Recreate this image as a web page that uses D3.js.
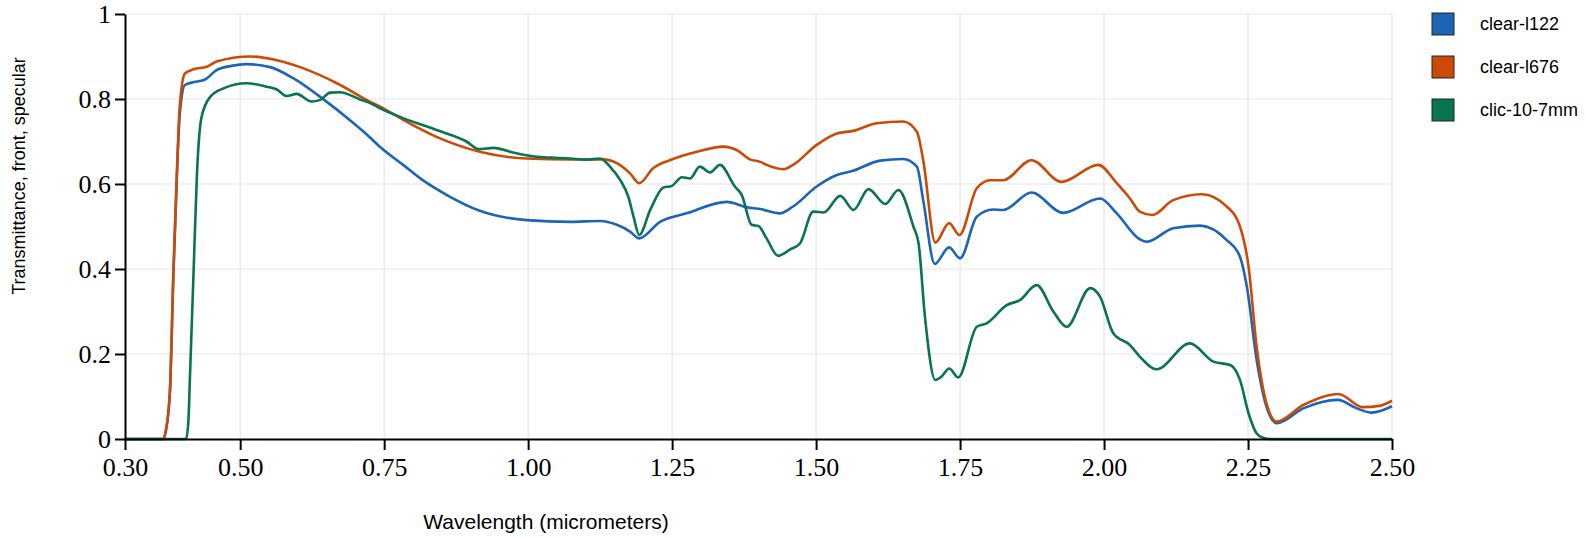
<!DOCTYPE html>
<html lang="en">
<head>
    <meta charset="UTF-8">
    <title>Transmittance</title>
    <script src="https://d3js.org/d3.v7.min.js"></script>
    <style>
        body { margin: 0; background: #fff; }
        .grid line { stroke: #e6e6e6; stroke-width: 1.2px; }
        .axis path, .axis line { stroke: #000; stroke-width: 2px; }
        .axis text { font-family: "Liberation Serif", "Times New Roman", serif; font-size: 26px; fill: #000; }
        .title { font-family: "Liberation Sans", Arial, sans-serif; font-size: 18px; fill: #000; }
        .legend text { font-family: "Liberation Sans", Arial, sans-serif; font-size: 18px; fill: #000; }
        .series { fill: none; stroke-width: 2.6px; stroke-linejoin: round; }
    </style>
</head>
<body>
    <div id="chart"></div>
    <script>
        // values: [wavelength um, transmittance]
        const seriesNames = ["clear-l122", "clear-l676", "clic-10-7mm"];
        const seriesColors = ["#1c64b5", "#cc4a08", "#0a7350"];
        const xTicks = [0.30, 0.50, 0.75, 1.00, 1.25, 1.50, 1.75, 2.00, 2.25, 2.50];
        const yTicks = [0, 0.2, 0.4, 0.6, 0.8, 1];

        const clearL122 = [
            [0.30, 0], [0.366, 0], [0.371, 0.02], [0.378, 0.11], [0.384, 0.386], [0.390, 0.614],
            [0.395, 0.762], [0.404, 0.833], [0.420, 0.840], [0.439, 0.846], [0.459, 0.868],
            [0.485, 0.878], [0.511, 0.882], [0.552, 0.875], [0.592, 0.849], [0.639, 0.805],
            [0.696, 0.744], [0.725, 0.710], [0.743, 0.687], [0.783, 0.645], [0.817, 0.609],
            [0.859, 0.574], [0.916, 0.537], [0.998, 0.515], [1.073, 0.511], [1.125, 0.513],
            [1.154, 0.504], [1.177, 0.488], [1.193, 0.472], [1.229, 0.511], [1.275, 0.531],
            [1.345, 0.558], [1.380, 0.545], [1.403, 0.541], [1.437, 0.531], [1.460, 0.547],
            [1.501, 0.594], [1.536, 0.621], [1.564, 0.631], [1.611, 0.655], [1.651, 0.659],
            [1.675, 0.641], [1.686, 0.562], [1.706, 0.412], [1.731, 0.451], [1.750, 0.425],
            [1.779, 0.523], [1.807, 0.540], [1.825, 0.539], [1.874, 0.580], [1.929, 0.532],
            [1.993, 0.566], [2.022, 0.531], [2.062, 0.470], [2.074, 0.464], [2.120, 0.496],
            [2.167, 0.502], [2.213, 0.468], [2.236, 0.429], [2.248, 0.358], [2.265, 0.186],
            [2.282, 0.076], [2.300, 0.037], [2.346, 0.072], [2.406, 0.092], [2.439, 0.072],
            [2.465, 0.062], [2.500, 0.077]
        ];

        const clearL676 = [
            [0.30, 0], [0.366, 0], [0.371, 0.02], [0.378, 0.115], [0.384, 0.39], [0.390, 0.625],
            [0.395, 0.782], [0.404, 0.860], [0.419, 0.870], [0.442, 0.876], [0.459, 0.888],
            [0.517, 0.900], [0.558, 0.893], [0.610, 0.872], [0.668, 0.837], [0.725, 0.794],
            [0.743, 0.782], [0.783, 0.751], [0.841, 0.711], [0.916, 0.676], [0.998, 0.660],
            [1.073, 0.658], [1.131, 0.658], [1.154, 0.649], [1.177, 0.625], [1.193, 0.602],
            [1.217, 0.637], [1.246, 0.656], [1.293, 0.676], [1.339, 0.688], [1.362, 0.680],
            [1.385, 0.658], [1.403, 0.652], [1.414, 0.645], [1.443, 0.635], [1.460, 0.645],
            [1.501, 0.692], [1.536, 0.719], [1.565, 0.725], [1.605, 0.743], [1.651, 0.747],
            [1.675, 0.723], [1.686, 0.656], [1.707, 0.462], [1.731, 0.508], [1.749, 0.480],
            [1.779, 0.590], [1.802, 0.609], [1.825, 0.609], [1.874, 0.656], [1.926, 0.605],
            [1.990, 0.645], [2.022, 0.602], [2.045, 0.566], [2.062, 0.535], [2.084, 0.527],
            [2.120, 0.562], [2.170, 0.576], [2.213, 0.547], [2.236, 0.500], [2.251, 0.405],
            [2.265, 0.217], [2.282, 0.084], [2.300, 0.041], [2.346, 0.080], [2.407, 0.106],
            [2.449, 0.075], [2.478, 0.078], [2.500, 0.090]
        ];

        const clic107 = [
            [0.30, 0], [0.406, 0], [0.410, 0.04], [0.413, 0.155], [0.419, 0.390], [0.425, 0.625],
            [0.433, 0.758], [0.448, 0.805], [0.471, 0.825], [0.511, 0.837], [0.546, 0.829],
            [0.563, 0.823], [0.581, 0.807], [0.598, 0.812], [0.624, 0.794], [0.639, 0.798],
            [0.656, 0.815], [0.673, 0.816], [0.708, 0.799], [0.725, 0.791], [0.743, 0.778],
            [0.783, 0.755], [0.841, 0.727], [0.893, 0.700], [0.914, 0.682], [0.940, 0.685],
            [0.974, 0.674], [1.015, 0.664], [1.040, 0.662], [1.073, 0.660], [1.100, 0.657],
            [1.125, 0.660], [1.142, 0.641], [1.160, 0.609], [1.174, 0.570], [1.183, 0.523],
            [1.193, 0.480], [1.212, 0.539], [1.235, 0.592], [1.249, 0.595], [1.267, 0.616],
            [1.281, 0.613], [1.298, 0.641], [1.316, 0.627], [1.333, 0.645], [1.359, 0.594],
            [1.371, 0.574], [1.388, 0.504], [1.400, 0.501], [1.414, 0.472], [1.434, 0.431],
            [1.455, 0.446], [1.472, 0.460], [1.495, 0.535], [1.513, 0.533], [1.542, 0.572],
            [1.565, 0.539], [1.591, 0.588], [1.620, 0.553], [1.643, 0.586], [1.669, 0.500],
            [1.678, 0.460], [1.689, 0.288], [1.707, 0.139], [1.718, 0.147], [1.731, 0.166],
            [1.747, 0.145], [1.779, 0.264], [1.796, 0.272], [1.831, 0.315], [1.854, 0.327],
            [1.883, 0.362], [1.912, 0.300], [1.935, 0.264], [1.976, 0.355], [1.993, 0.335],
            [2.016, 0.249], [2.045, 0.221], [2.062, 0.194], [2.091, 0.164], [2.149, 0.225],
            [2.190, 0.182], [2.219, 0.174], [2.236, 0.139], [2.251, 0.060], [2.265, 0.013],
            [2.276, 0.003], [2.290, 0], [2.500, 0]
        ];

        const allSeries = [clearL122, clearL676, clic107];

        const width = 1587, height = 538;
        const margin = { left: 125, right: 195, top: 14, bottom: 99 };

        const svg = d3.select("#chart").append("svg")
            .attr("width", width)
            .attr("height", height);

        const x = d3.scaleLinear().domain([0.30, 2.50]).range([margin.left, width - margin.right]);
        const y = d3.scaleLinear().domain([0, 1]).range([height - margin.bottom, margin.top]);

        // grid
        const grid = svg.append("g").attr("class", "grid");
        grid.selectAll(".vx").data(xTicks.slice(1)).enter().append("line")
            .attr("x1", d => x(d)).attr("x2", d => x(d))
            .attr("y1", y(0)).attr("y2", y(1));
        grid.selectAll(".hy").data(yTicks.slice(1)).enter().append("line")
            .attr("x1", x(0.30)).attr("x2", x(2.50))
            .attr("y1", d => y(d)).attr("y2", d => y(d));

        // lines
        const line = d3.line()
            .x(d => x(d[0]))
            .y(d => y(d[1]))
            .curve(d3.curveMonotoneX);

        svg.append("g").selectAll("path")
            .data(allSeries)
            .enter().append("path")
            .attr("class", "series")
            .attr("stroke", (d, i) => seriesColors[i])
            .attr("d", line);

        // axes
        svg.append("g")
            .attr("class", "axis")
            .attr("transform", `translate(0,${y(0)})`)
            .call(d3.axisBottom(x).tickValues(xTicks).tickFormat(d3.format(".2f")).tickSize(11).tickSizeOuter(0).tickPadding(8));

        svg.append("g")
            .attr("class", "axis")
            .attr("transform", `translate(${x(0.30)},0)`)
            .call(d3.axisLeft(y).tickValues(yTicks).tickFormat(d3.format("")).tickSize(10).tickSizeOuter(0).tickPadding(4));

        // titles
        svg.append("text")
            .attr("class", "title")
            .attr("x", 546)
            .attr("y", 529)
            .attr("text-anchor", "middle")
            .style("font-size", "21px")
            .text("Wavelength (micrometers)");

        svg.append("text")
            .attr("class", "title")
            .attr("transform", "translate(25,176) rotate(-90)")
            .attr("text-anchor", "middle")
            .text("Transmittance, front, specular");

        // legend
        const legend = svg.append("g").attr("class", "legend")
            .selectAll("g")
            .data(seriesNames)
            .enter().append("g")
            .attr("transform", (d, i) => `translate(1432,${13 + i * 43})`);

        legend.append("rect")
            .attr("width", 22)
            .attr("height", 22)
            .attr("fill", (d, i) => seriesColors[i])
            .attr("stroke", "#222")
            .attr("stroke-width", 1);

        legend.append("text")
            .attr("x", 48)
            .attr("y", 11)
            .attr("dy", "0.35em")
            .text(d => d);
    </script>
</body>
</html>
